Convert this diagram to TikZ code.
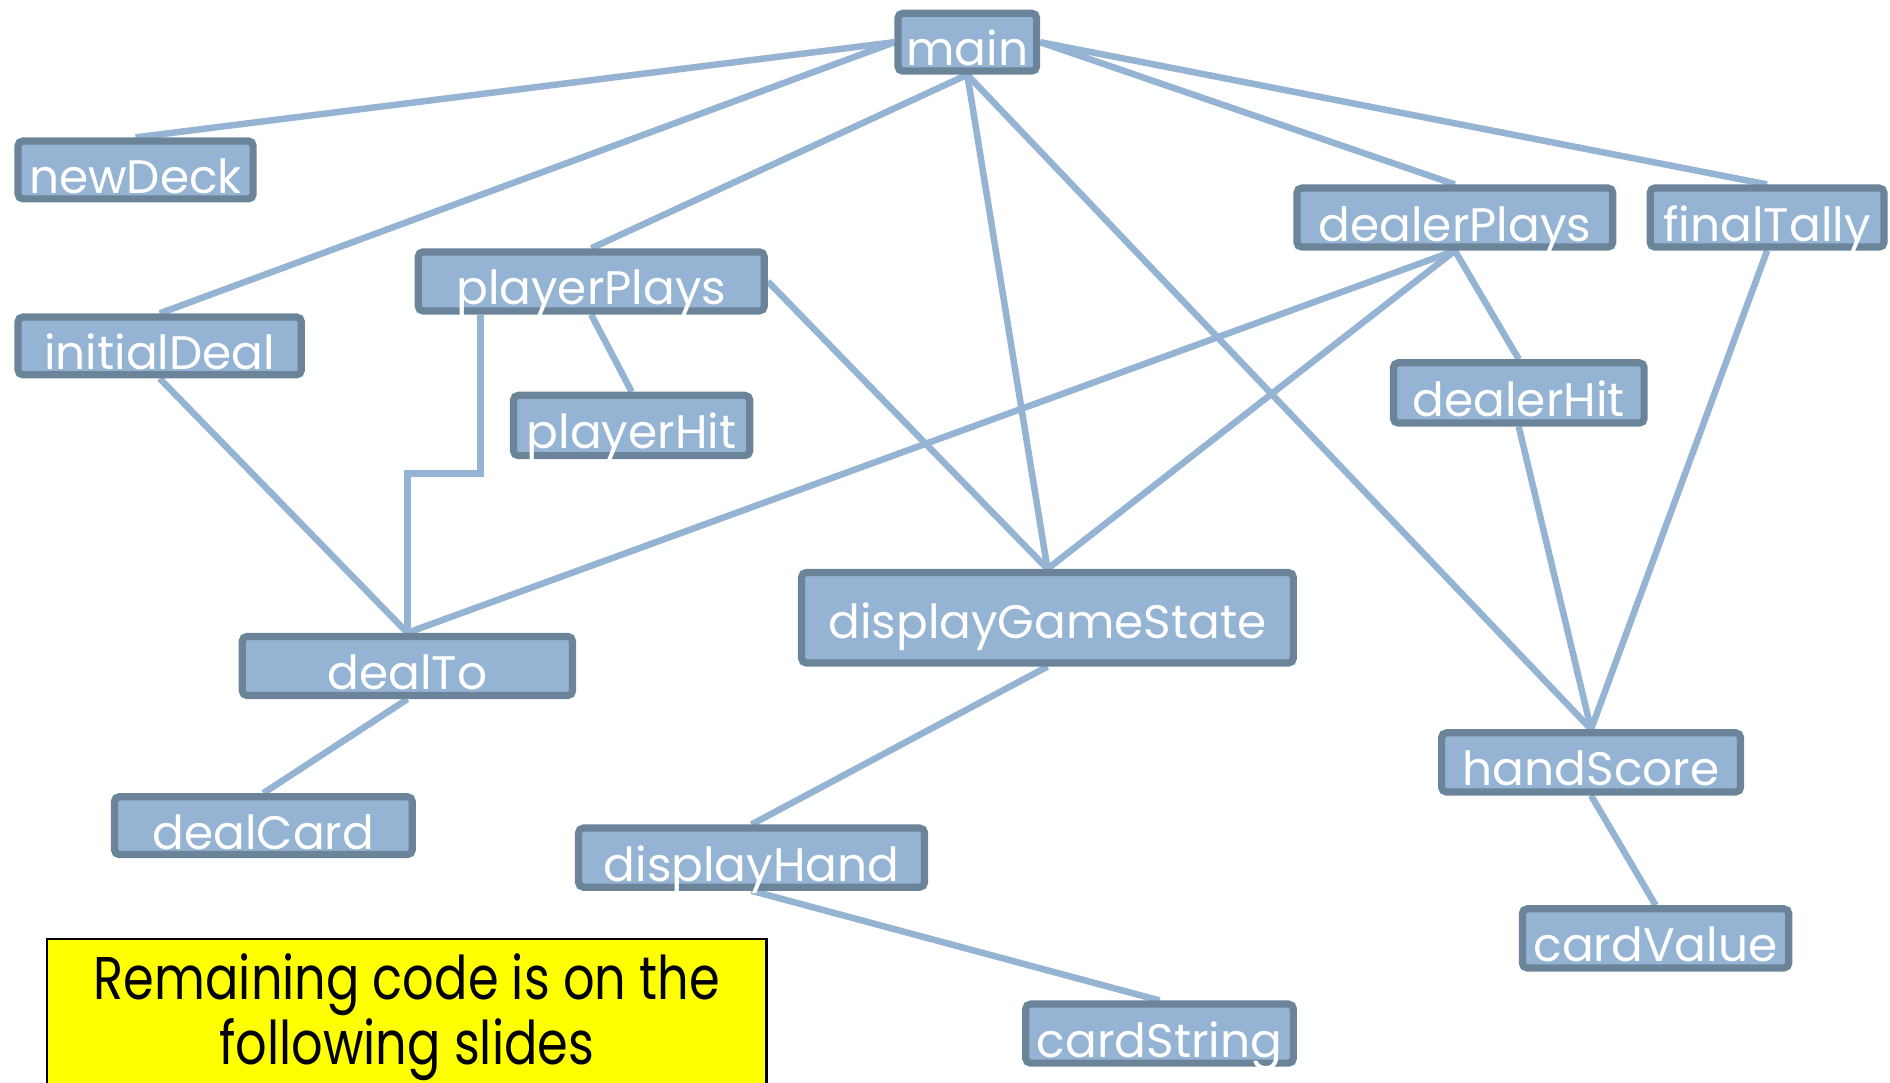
\documentclass[tikz,border=0pt]{standalone}
\usepackage{fontspec}
\setmainfont{Poppins}
\newfontfamily\condfont[FakeStretch=0.82]{Poppins}
\usetikzlibrary{backgrounds}
\definecolor{boxfill}{HTML}{95B3D3}
\definecolor{boxedge}{HTML}{6B8499}
\definecolor{linkcol}{HTML}{95B3D3}
\definecolor{noteyellow}{RGB}{255,255,0}
\tikzset{
  fbox/.style={draw=boxedge, fill=boxfill, line width=3pt, rounded corners=2pt,
    text=white, font=\fontsize{19.5}{24}\selectfont, inner sep=0pt,
    text height=19.5pt, text depth=0pt},
  link/.style={draw=linkcol, line width=2.7pt},
}
\begin{document}
\begin{tikzpicture}[x=0.5pt,y=-0.5pt]
\useasboundingbox (0,0) rectangle (1568,898);
\node[fbox, minimum width=57.5pt, minimum height=24pt] (main) at (802.5,35) {main};
\node[fbox, minimum width=97.5pt, minimum height=24pt] (newDeck) at (112.5,141) {newDeck};
\node[fbox, minimum width=117.5pt, minimum height=24pt] (initialDeal) at (132.5,287) {initialDeal};
\node[fbox, minimum width=143.5pt, minimum height=24.5pt] (playerPlays) at (490.5,233.5) {playerPlays};
\node[fbox, minimum width=98pt, minimum height=25pt] (playerHit) at (524,353) {playerHit};
\node[fbox, minimum width=131pt, minimum height=24.5pt] (dealerPlays) at (1207,180.5) {dealerPlays};
\node[fbox, minimum width=97pt, minimum height=24.5pt] (finalTally) at (1466,180.5) {finalTally};
\node[fbox, minimum width=104pt, minimum height=25pt] (dealerHit) at (1260,326) {dealerHit};
\node[fbox, minimum width=204pt, minimum height=37.5pt, text height=17.5pt] (displayGameState) at (869,512.5) {displayGameState};
\node[fbox, minimum width=137pt, minimum height=24.5pt] (dealTo) at (338,552.5) {dealTo};
\node[fbox, minimum width=123.5pt, minimum height=24pt] (dealCard) at (218.5,685) {dealCard};
\node[fbox, minimum width=143.5pt, minimum height=24.5pt] (displayHand) at (623.5,711.5) {displayHand};
\node[fbox, minimum width=124pt, minimum height=24.5pt] (handScore) at (1320,632.5) {handScore};
\node[fbox, minimum width=110.5pt, minimum height=24.5pt] (cardValue) at (1373.5,778.5) {cardValue};
\node[fbox, minimum width=111pt, minimum height=24.5pt] (cardString) at (962,857.5) {cardString};

\draw[fill=noteyellow, draw=black, line width=1pt] (39,779) rectangle (636,910);
\node[align=center, font=\condfont\fontsize{25}{25.5}\selectfont, text=black, inner sep=0pt] (note) at (337.5,844) {Remaining code is on the\\following slides};

\begin{pgfonlayer}{background}
\draw[link] (main.west) -- (newDeck.north);
\draw[link] (main.west) -- (initialDeal.north);
\draw[link] (main.south) -- (playerPlays.north);
\draw[link] (main.south) -- (displayGameState.north);
\draw[link] (main.south) -- (handScore.north);
\draw[link] (main.east) -- (dealerPlays.north);
\draw[link] (main.east) -- (finalTally.north);
\draw[link] (playerPlays.east) -- (displayGameState.north);
\draw[link] (playerPlays.south) -- (playerHit.north);
\draw[link] ([xshift=-46pt]playerPlays.south) -- ++(0,132) -| (dealTo.north);
\draw[link] (initialDeal.south) -- (dealTo.north);
\draw[link] (dealerPlays.south) -- (dealTo.north);
\draw[link] (dealerPlays.south) -- (displayGameState.north);
\draw[link] (dealerPlays.south) -- (dealerHit.north);
\draw[link] (dealerHit.south) -- (handScore.north);
\draw[link] (finalTally.south) -- (handScore.north);
\draw[link] (dealTo.south) -- (dealCard.north);
\draw[link] (displayGameState.south) -- (displayHand.north);
\draw[link] (displayHand.south) -- (cardString.north);
\draw[link] (handScore.south) -- (cardValue.north);
\end{pgfonlayer}
\end{tikzpicture}
\end{document}
